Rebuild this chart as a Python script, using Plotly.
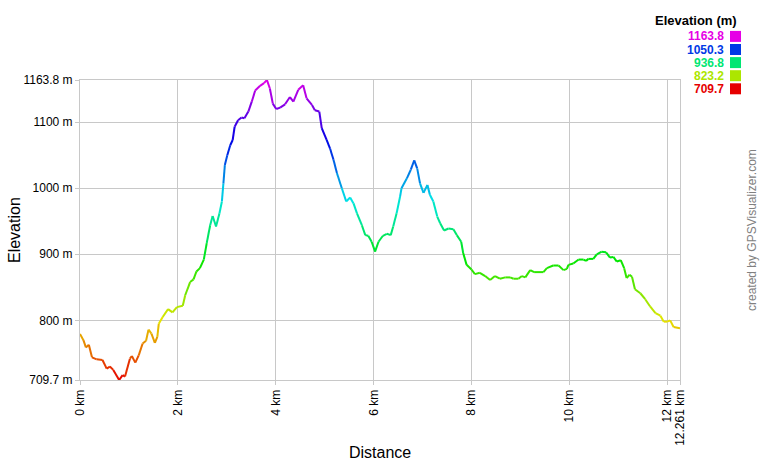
import colorsys
import plotly.graph_objects as go

# ---- data ----
dist_km = [0.00, 0.07, 0.12, 0.18, 0.245, 0.34, 0.46, 0.545, 0.61, 0.68, 0.80, 0.87, 0.92, 1.02, 1.06,
           1.13, 1.20, 1.28, 1.35, 1.40, 1.46, 1.53, 1.58, 1.61, 1.69, 1.80, 1.89, 1.98, 2.10, 2.15,
           2.25, 2.32, 2.38, 2.45, 2.53, 2.59, 2.66, 2.71, 2.78, 2.85, 2.90, 2.93, 2.96, 3.01, 3.07,
           3.12, 3.16, 3.23, 3.30, 3.36, 3.44, 3.51, 3.58, 3.68, 3.76, 3.82, 3.88, 3.94, 4.01, 4.09,
           4.19, 4.29, 4.36, 4.46, 4.56, 4.63, 4.74, 4.80, 4.89, 4.94, 5.04, 5.11, 5.18, 5.25, 5.35,
           5.44, 5.52, 5.59, 5.66, 5.76, 5.83, 5.89, 5.96, 6.03, 6.10, 6.19, 6.27, 6.35, 6.40, 6.47,
           6.54, 6.57, 6.68, 6.76, 6.83, 6.89, 6.95, 7.02, 7.10, 7.15, 7.22, 7.30, 7.36, 7.44, 7.53,
           7.63, 7.70, 7.79, 7.83, 7.90, 8.00, 8.07, 8.17, 8.28, 8.38, 8.48, 8.58, 8.69, 8.79, 8.86,
           8.96, 9.03, 9.10, 9.20, 9.28, 9.47, 9.54, 9.67, 9.78, 9.88, 9.95, 9.98, 10.08, 10.19, 10.29,
           10.34, 10.39, 10.49, 10.56, 10.66, 10.75, 10.83, 10.90, 10.97, 11.05, 11.12, 11.17, 11.23,
           11.28, 11.34, 11.45, 11.55, 11.65, 11.76, 11.86, 11.93, 12.00, 12.06, 12.13, 12.261]
elev_m = [779.5, 770, 759, 763, 744, 741, 740, 727, 730, 725, 709.7, 717, 715, 742, 746,
          736, 747, 765, 769, 786, 780, 766, 775, 795, 805, 817, 812, 820, 822, 838,
          858, 862, 874, 879, 892, 917, 944, 958, 942, 962, 980, 1007, 1035, 1050, 1065,
          1073, 1093, 1103, 1107, 1106, 1116, 1131, 1148, 1155, 1159, 1163.8, 1151, 1128, 1120, 1122,
          1127, 1138, 1131, 1149, 1156, 1136, 1126, 1118, 1116, 1091, 1073, 1060, 1043, 1023, 1000,
          980, 986, 977, 962, 944, 929, 928, 919, 904, 919, 928, 931, 929, 942, 962,
          987, 1000, 1015, 1028, 1042, 1030, 1007, 993, 1005, 990, 980, 957, 947, 936, 939,
          938, 929, 919, 902, 884, 877, 870, 872, 867, 861, 867, 863, 865, 865, 863,
          863, 867, 865, 876, 873, 873, 879, 883, 883, 876, 878, 884, 886, 892, 892,
          890, 893, 893, 900, 904, 903, 895, 896, 889, 891, 879, 864, 869,
          866, 847, 841, 832, 821, 811, 807, 798, 798, 800, 790, 788]

elev_min, elev_max = 709.7, 1163.8
total_km = 12.261
x_tick_vals = [0, 2, 4, 6, 8, 10, 12, 12.261]
x_tick_text = ["0 km", "2 km", "4 km", "6 km", "8 km", "10 km", "12 km", "12.261 km"]
y_tick_vals = [709.7, 800, 900, 1000, 1100, 1163.8]
y_tick_text = ["709.7 m", "800 m", "900 m", "1000 m", "1100 m", "1163.8 m"]
legend_vals = [1163.8, 1050.3, 936.8, 823.2, 709.7]
legend_text = ["1163.8", "1050.3", "936.8", "823.2", "709.7"]


def elev_color(e):
    t = (e - elev_min) / (elev_max - elev_min)
    t = min(max(t, 0.0), 1.0)
    r, g, b = colorsys.hsv_to_rgb(t * 300.0 / 360.0, 1.0, 0.9)
    return "rgb(%d,%d,%d)" % (round(r * 255), round(g * 255), round(b * 255))


# plot area in window pixels: left 80, right 680, top 80, bottom 380
def px_x(px):
    return (px - 80) / 600.0


def px_y(py):
    return (380 - py) / 300.0


FONT = "Arial, Liberation Sans, sans-serif"

fig = go.Figure()
for i in range(len(dist_km) - 1):
    e_mid = (elev_m[i] + elev_m[i + 1]) / 2.0
    fig.add_trace(go.Scatter(
        x=[dist_km[i], dist_km[i + 1]], y=[elev_m[i], elev_m[i + 1]],
        mode="lines", line=dict(color=elev_color(e_mid), width=2),
        showlegend=False, hoverinfo="skip"))

annotations = [
    dict(text="Elevation", x=px_x(14), y=px_y(230), xref="paper", yref="paper",
         xanchor="center", yanchor="middle",
         textangle=-90, showarrow=False, font=dict(size=16, color="#000", family=FONT)),
    dict(text="Distance", x=px_x(380), y=px_y(452), xref="paper", yref="paper",
         xanchor="center", yanchor="middle",
         showarrow=False, font=dict(size=16, color="#000", family=FONT)),
    dict(text="created by GPSVisualizer.com", x=px_x(752), y=px_y(230), xref="paper", yref="paper",
         xanchor="center", yanchor="middle",
         textangle=-90, showarrow=False, font=dict(size=12, color="#808080", family=FONT)),
    dict(text="<b>Elevation (m)</b>", x=px_x(738), y=px_y(21), xref="paper", yref="paper",
         xanchor="right", yanchor="middle", showarrow=False, borderpad=0,
         font=dict(size=13, color="#000", family=FONT)),
]
shapes = []
for k, (v, t) in enumerate(zip(legend_vals, legend_text)):
    cy = 36.4 + 13.1 * k
    col = elev_color(v)
    annotations.append(dict(text="<b>%s</b>" % t, x=px_x(725), y=px_y(cy), xref="paper", yref="paper",
                            xanchor="right", yanchor="middle", showarrow=False, borderpad=0,
                            font=dict(size=12, color=col, family=FONT)))
    shapes.append(dict(type="rect", xref="paper", yref="paper",
                       x0=px_x(730), x1=px_x(741), y0=px_y(cy - 5.5), y1=px_y(cy + 5.5),
                       fillcolor=col, line=dict(width=0)))

fig.update_layout(
    width=760, height=460,
    margin=dict(l=80, r=80, t=80, b=80),
    paper_bgcolor="white", plot_bgcolor="white",
    font=dict(family=FONT, size=12, color="#000"),
    showlegend=False,
    annotations=annotations, shapes=shapes,
    xaxis=dict(range=[0, total_km], tickmode="array", tickvals=x_tick_vals, ticktext=x_tick_text,
               tickangle=-90, showgrid=True, gridcolor="#c8c8c8", gridwidth=1,
               showline=True, linecolor="#c8c8c8", mirror=True, zeroline=False,
               ticks="outside", ticklen=4, tickcolor="#c8c8c8", tickfont=dict(size=12)),
    yaxis=dict(range=[elev_min, elev_max], tickmode="array", tickvals=y_tick_vals, ticktext=y_tick_text,
               showgrid=True, gridcolor="#c8c8c8", gridwidth=1,
               showline=True, linecolor="#c8c8c8", mirror=True, zeroline=False,
               ticks="outside", ticklen=4, tickcolor="#c8c8c8", tickfont=dict(size=12)),
)

# remove the default 8px page margin so the figure sits at the window's top-left corner
fig.write_html("out.html",
               config={"displayModeBar": False},
               post_script="document.body.style.margin='0';document.body.style.overflow='hidden';")
